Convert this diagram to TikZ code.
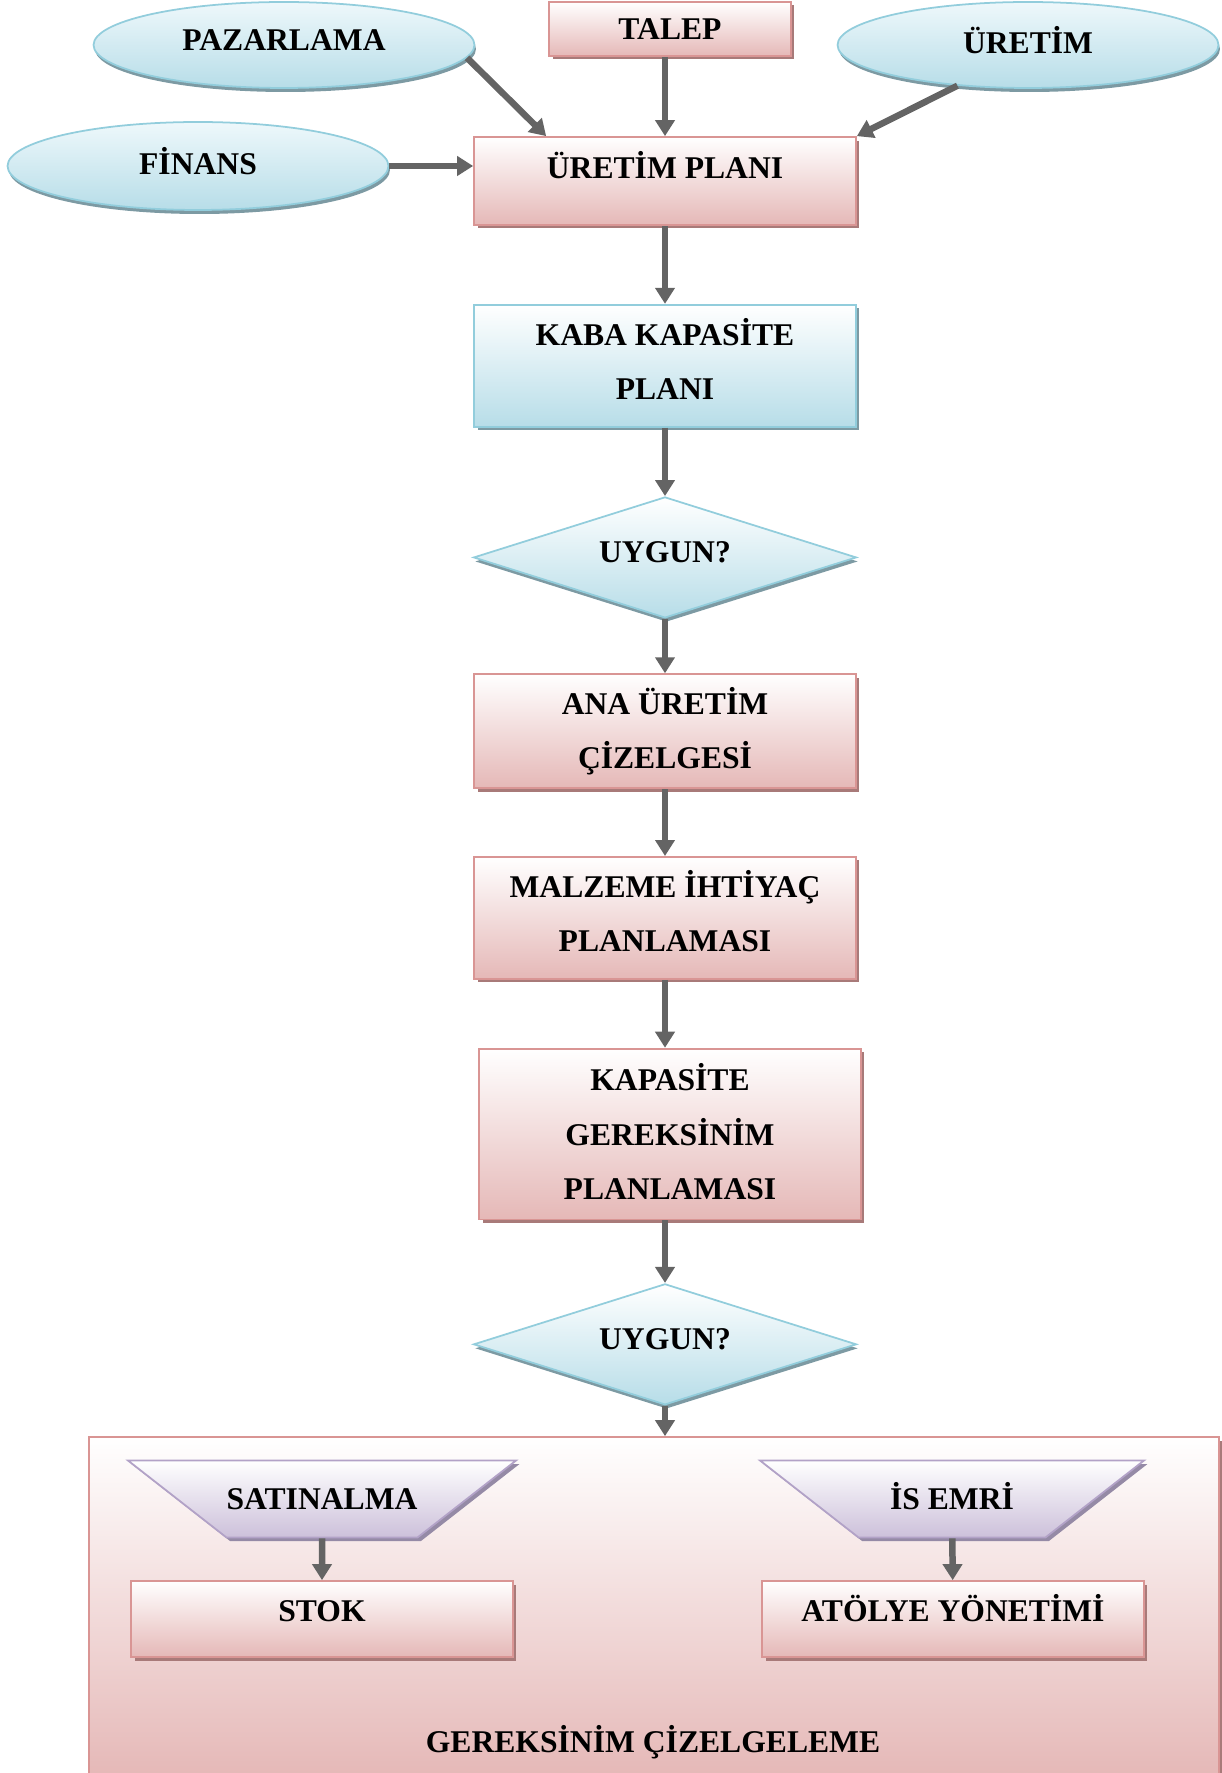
\documentclass[tikz,border=0pt]{standalone}
\usepackage{fontspec}
\setmainfont{Liberation Serif}
\usetikzlibrary{arrows.meta, positioning, shapes.geometric, shadows}
\definecolor{pinkbot}{HTML}{E5B8B7}
\definecolor{pinkline}{HTML}{D99594}
\definecolor{pinkshd}{HTML}{A87A79}
\definecolor{bluetop}{HTML}{EEF8FB}
\definecolor{bluebot}{HTML}{B7DDE8}
\definecolor{blueline}{HTML}{92CDDC}
\definecolor{blueshd}{HTML}{7D9AA3}
\definecolor{lilabot}{HTML}{CCC0DA}
\definecolor{lilaline}{HTML}{B2A2C7}
\definecolor{lilashd}{HTML}{958AA6}
\definecolor{arrgray}{HTML}{646464}

\begin{document}
\begin{tikzpicture}[
  x=0.02cm, y=-0.02cm,
  font=\fontsize{18}{31}\selectfont\bfseries,
  pbox/.style={draw=pinkline, line width=1pt, top color=white, bottom color=pinkbot,
    drop shadow={shadow xshift=0.07cm, shadow yshift=-0.07cm, fill=pinkshd, opacity=1},
    minimum width=7.64cm, inner sep=0pt, align=center},
  bbox/.style={draw=blueline, line width=1pt, top color=white, bottom color=bluebot,
    drop shadow={shadow xshift=0.07cm, shadow yshift=-0.07cm, fill=blueshd, opacity=1},
    minimum width=7.64cm, inner sep=0pt, align=center},
  oval/.style={ellipse, draw=blueline, line width=1pt, top color=bluetop, bottom color=bluebot,
    drop shadow={shadow xshift=0.03cm, shadow yshift=-0.08cm, fill=blueshd, opacity=1},
    minimum width=7.62cm, minimum height=1.72cm, inner sep=0pt, text depth=0.2cm},
  dmd/.style={diamond, aspect=3, draw=blueline, line width=1pt, top color=white, bottom color=bluebot,
    drop shadow={shadow xshift=0.03cm, shadow yshift=-0.08cm, fill=blueshd, opacity=1},
    minimum width=7.66cm, minimum height=2.42cm, inner sep=0pt, text depth=0.2cm},
  trap/.style={trapezium, shape border rotate=180, trapezium angle=38,
    trapezium stretches body=true, draw=lilaline, line width=1pt,
    top color=white, bottom color=lilabot,
    drop shadow={shadow xshift=0.07cm, shadow yshift=-0.07cm, fill=lilashd, opacity=1},
    text height=0.5cm, text depth=0.1cm, inner ysep=0.47cm, inner xsep=0pt,
    minimum width=7.68cm},
  arr/.style={-{Triangle[length=0.32cm, width=0.38cm]}, line width=0.13cm, draw=arrgray}
]
  \useasboundingbox (0,0) rectangle (1221,1773);

  \node[oval] (paz) at (284,45) {PAZARLAMA};
  \node[pbox, minimum width=4.84cm, minimum height=1.08cm] (talep) at (670,29) {TALEP};
  \node[oval] (ure) at (1028,45) {ÜRETİM};
  \node[oval, minimum height=1.76cm] (fin) at (198,166) {FİNANS};

  \node[pbox, minimum height=1.76cm, text depth=0.65cm] (plan) at (665,181) {ÜRETİM PLANI};
  \node[bbox, minimum height=2.44cm, text depth=0.28cm, below=1.56cm of plan] (kaba) {KABA KAPASİTE\\PLANI};
  \node[dmd, below=1.37cm of kaba] (uyg1) {UYGUN?};
  \node[pbox, minimum height=2.28cm, below=1.09cm of uyg1] (ana) {ANA ÜRETİM\\ÇİZELGESİ};
  \node[pbox, minimum height=2.44cm, text depth=0.28cm, below=1.34cm of ana] (mip) {MALZEME İHTİYAÇ\\PLANLAMASI};
  \node[pbox, minimum height=3.42cm, text depth=0.1cm, below=1.36cm of mip, xshift=0.1cm] (kgp) {KAPASİTE\\GEREKSİNİM\\PLANLAMASI};
  \node[dmd, below=1.25cm of kgp, xshift=-0.1cm] (uyg2) {UYGUN?};

  \node[pbox, minimum width=22.6cm, minimum height=6.8cm] (gcz) at (654,1607) {};
  \node (gczt) at (653,1742) {GEREKSİNİM ÇİZELGELEME};
  \node[trap] (sat) at (322,1499) {SATINALMA};
  \node[trap] (ise) at (952,1499) {İS EMRİ};
  \node[pbox, minimum height=1.52cm, text height=0.6cm, text depth=0.5cm] (stok) at (322,1619) {STOK};
  \node[pbox, minimum height=1.52cm, text height=0.6cm, text depth=0.5cm] (atl) at (953,1619) {ATÖLYE YÖNETİMİ};

  \draw[arr] (paz.-4) -- ([xshift=1.46cm]plan.north west);
  \draw[arr] (talep.south -| plan.north) -- (plan.north);
  \draw[arr] (ure.210) -- (plan.north east);
  \draw[arr] (fin.east) -- (fin.east -| plan.west);
  \draw[arr] (plan) -- (kaba);
  \draw[arr] (kaba) -- (uyg1);
  \draw[arr] (uyg1) -- (ana);
  \draw[arr] (ana) -- (mip);
  \draw[arr] (mip.south) -- (mip.south |- kgp.north);
  \draw[arr] (kgp.south -| uyg2.north) -- (uyg2.north);
  \draw[arr] (uyg2.south) -- (uyg2.south |- gcz.north);
  \draw[arr] (sat) -- (stok);
  \draw[arr] (ise) -- (atl);
\end{tikzpicture}
\end{document}
